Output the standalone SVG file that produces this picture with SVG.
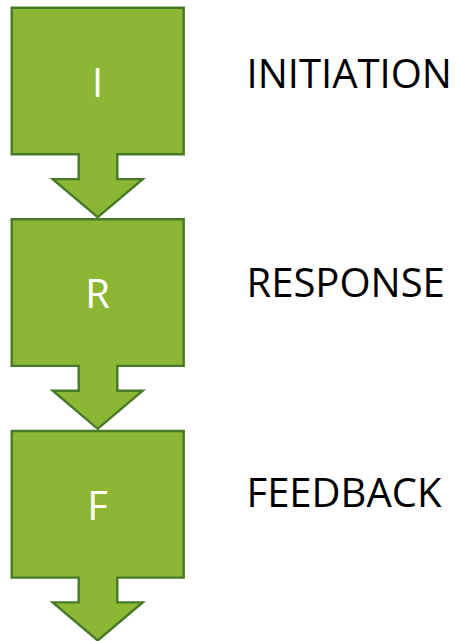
<svg xmlns="http://www.w3.org/2000/svg" width="459" height="641" viewBox="0 0 459 641">
  <defs>
    <style>
      .step { fill: #8BB735; stroke: #477A28; stroke-width: 2.4; stroke-linejoin: miter; }
      .letter { font-family: "Open Sans", "Liberation Sans", sans-serif; font-size: 40px; fill: #FFFFFF; text-anchor: middle; }
      .label { font-family: "Open Sans", "Liberation Sans", sans-serif; font-size: 40px; fill: #000000; }
    </style>
    <!-- down-arrow callout: box 172 wide, shaft 39 wide, head 90 wide -->
    <path id="callout" d="M11.7,0 H183.7 V146.6 H117.3 V171.4 H142.7 L97.7,209.5 L52.7,171.4 H78.7 V146.6 H11.7 Z"/>
  </defs>

  <g id="step-initiation">
    <use href="#callout" class="step" transform="translate(0,7.7)"/>
    <text class="letter" x="97.7" y="96.7">I</text>
  </g>
  <g id="step-response">
    <use href="#callout" class="step" transform="translate(0,219.3)"/>
    <text class="letter" x="97.7" y="308.3">R</text>
  </g>
  <g id="step-feedback">
    <use href="#callout" class="step" transform="translate(0,431)"/>
    <text class="letter" x="97.7" y="520">F</text>
  </g>

  <g id="labels">
    <text class="label" x="246.5" y="88.3">INITIATION</text>
    <text class="label" x="246.5" y="297.3">RESPONSE</text>
    <text class="label" x="246.5" y="506.7">FEEDBACK</text>
  </g>
</svg>
